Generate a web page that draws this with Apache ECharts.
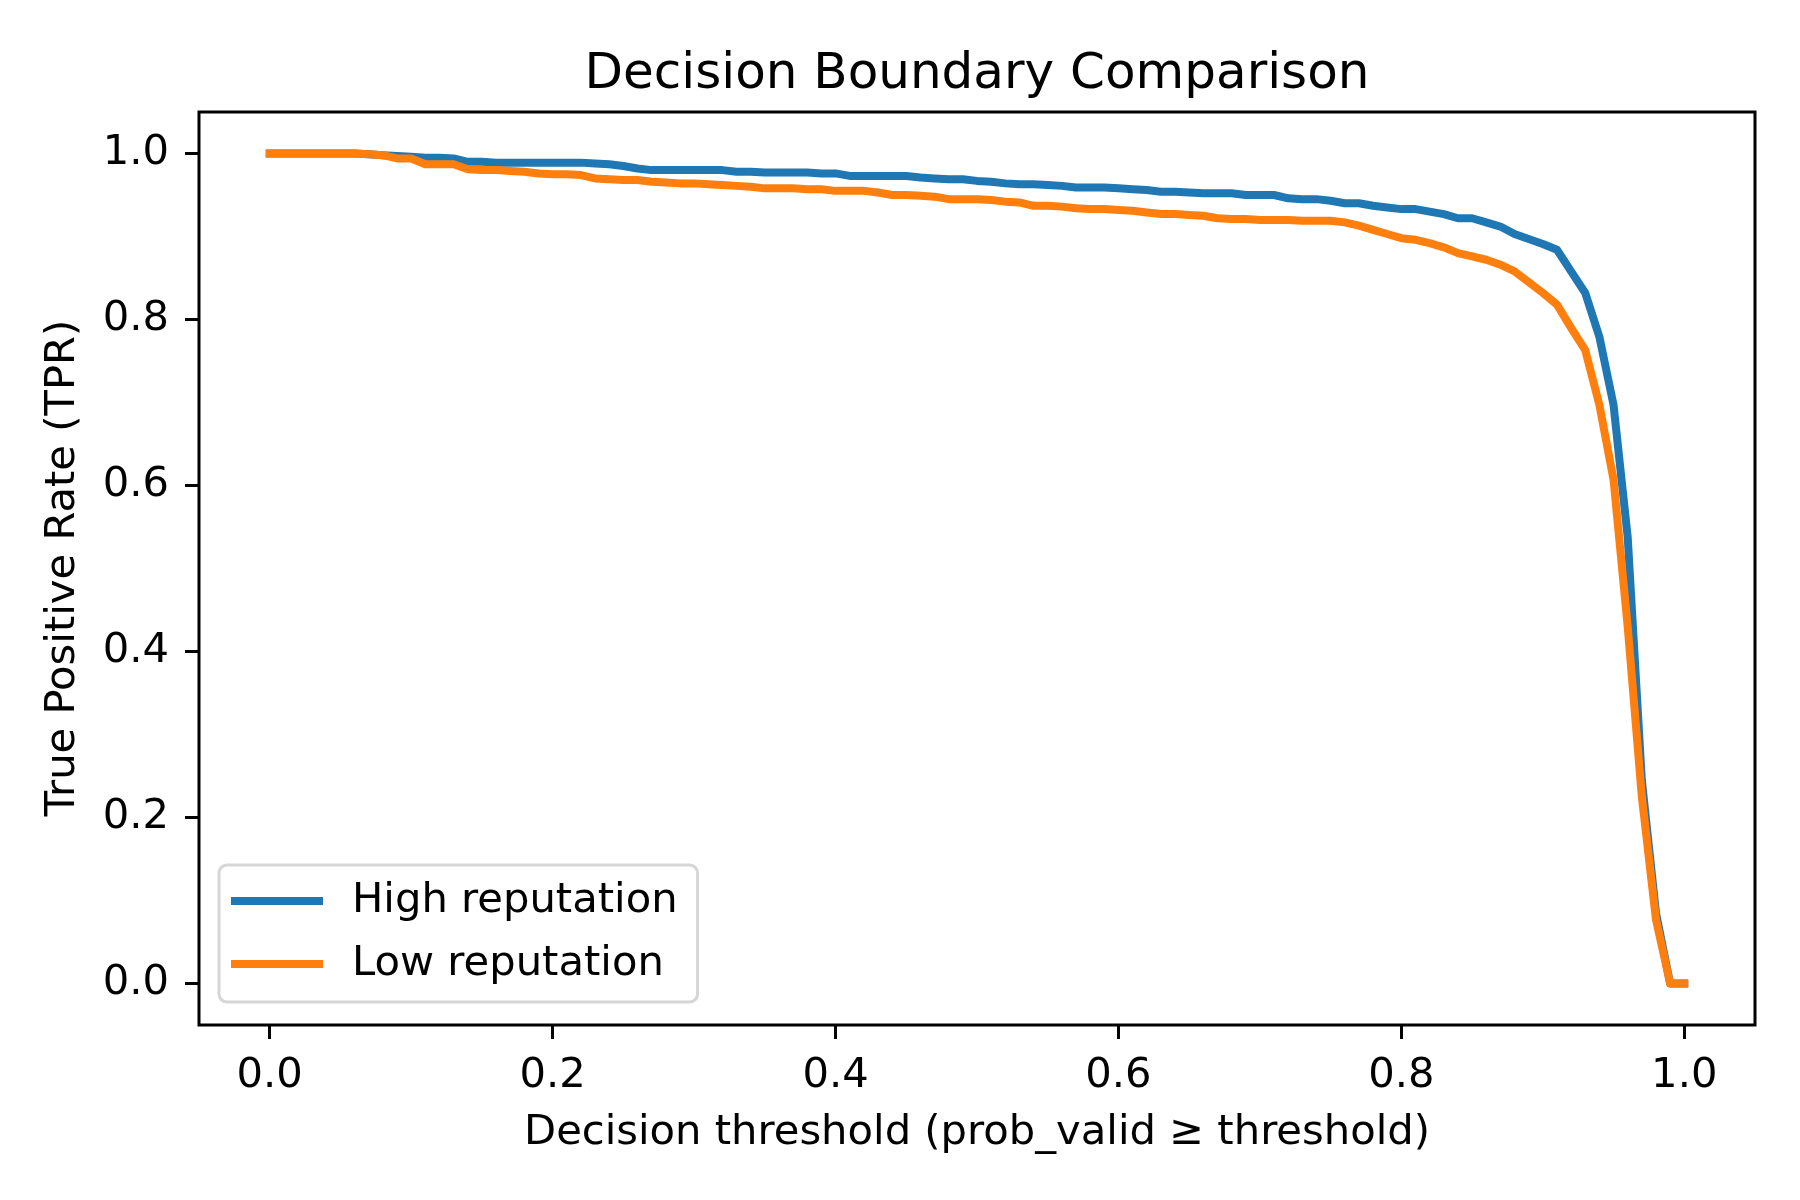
<!DOCTYPE html>
<html>
<head>
<meta charset="utf-8">
<script src="https://cdn.jsdelivr.net/npm/echarts@6/dist/echarts.min.js"></script>
<style>html,body{margin:0;padding:0;background:#fff;}#c{width:1800px;height:1200px;}</style>
</head>
<body>
<div id="c"></div>
<script>
const thresholds = [0.00,0.01,0.02,0.03,0.04,0.05,0.06,0.07,0.08,0.09,
0.10,0.11,0.12,0.13,0.14,0.15,0.16,0.17,0.18,0.19,
0.20,0.21,0.22,0.23,0.24,0.25,0.26,0.27,0.28,0.29,
0.30,0.31,0.32,0.33,0.34,0.35,0.36,0.37,0.38,0.39,
0.40,0.41,0.42,0.43,0.44,0.45,0.46,0.47,0.48,0.49,
0.50,0.51,0.52,0.53,0.54,0.55,0.56,0.57,0.58,0.59,
0.60,0.61,0.62,0.63,0.64,0.65,0.66,0.67,0.68,0.69,
0.70,0.71,0.72,0.73,0.74,0.75,0.76,0.77,0.78,0.79,
0.80,0.81,0.82,0.83,0.84,0.85,0.86,0.87,0.88,0.89,
0.90,0.91,0.92,0.93,0.94,0.95,0.96,0.97,0.98,0.99,1.00];

const highTPR = [1.0,1.0,1.0,1.0,1.0,1.0,1.0,0.999,0.998,0.997,
0.996,0.995,0.995,0.994,0.990,0.990,0.989,0.989,0.989,0.989,
0.989,0.989,0.989,0.988,0.987,0.985,0.982,0.980,0.980,0.980,
0.980,0.980,0.980,0.978,0.978,0.977,0.977,0.977,0.977,0.976,
0.976,0.973,0.973,0.973,0.973,0.973,0.971,0.970,0.969,0.969,
0.967,0.966,0.964,0.963,0.963,0.962,0.961,0.959,0.959,0.959,
0.958,0.957,0.956,0.954,0.954,0.953,0.952,0.952,0.952,0.950,
0.950,0.950,0.946,0.945,0.945,0.943,0.940,0.940,0.937,0.935,
0.933,0.933,0.930,0.927,0.922,0.922,0.917,0.912,0.903,0.897,
0.891,0.884,0.858,0.832,0.779,0.697,0.538,0.245,0.085,0.0,0.0];

const lowTPR = [1.0,1.0,1.0,1.0,1.0,1.0,1.0,0.999,0.998,0.994,
0.994,0.987,0.987,0.987,0.981,0.980,0.980,0.979,0.978,0.976,
0.975,0.975,0.974,0.970,0.969,0.968,0.968,0.966,0.965,0.964,
0.964,0.963,0.962,0.961,0.960,0.958,0.958,0.958,0.957,0.957,
0.955,0.955,0.955,0.953,0.950,0.950,0.949,0.948,0.945,0.945,
0.945,0.944,0.942,0.941,0.937,0.937,0.936,0.934,0.933,0.933,
0.932,0.931,0.929,0.927,0.927,0.926,0.925,0.922,0.921,0.921,
0.920,0.920,0.920,0.919,0.919,0.919,0.917,0.913,0.908,0.903,
0.898,0.896,0.892,0.887,0.880,0.876,0.872,0.866,0.858,0.845,
0.832,0.818,0.790,0.763,0.697,0.607,0.430,0.225,0.077,0.0,0.0];

const tickValues = [0.0,0.2,0.4,0.6,0.8,1.0];
const seriesNames = ['High reputation','Low reputation'];
const titleText = 'Decision Boundary Comparison';
const xLabel = 'Decision threshold (prob_valid \u2265 threshold)';
const yLabel = 'True Positive Rate (TPR)';

const FONT = 'DejaVu Sans';
const pairs = (ys) => thresholds.map((t, i) => [t, ys[i]]);

const chart = echarts.init(document.getElementById('c'), null, {renderer: 'canvas'});
const gridL = 199, gridR = 45, gridT = 112, gridB = 175;
chart.setOption({
  animation: false,
  backgroundColor: '#ffffff',
  grid: {left: gridL, right: gridR, top: gridT, bottom: gridB, show: true,
         borderColor: '#000', borderWidth: 3, backgroundColor: 'transparent'},
  xAxis: {
    type: 'value', min: -0.05, max: 1.05,
    splitLine: {show: false},
    axisLine: {show: false, onZero: false},
    axisTick: {show: true, length: 14, lineStyle: {color: '#000', width: 3}, customValues: tickValues},
    axisLabel: {show: true, margin: 30, fontSize: 41.7, fontFamily: FONT, color: '#000',
                customValues: tickValues, formatter: (v) => v.toFixed(1)}
  },
  yAxis: {
    type: 'value', min: -0.05, max: 1.05,
    splitLine: {show: false},
    axisLine: {show: false, onZero: false},
    axisTick: {show: true, length: 14, lineStyle: {color: '#000', width: 3}, customValues: tickValues},
    axisLabel: {show: true, margin: 30, fontSize: 41.7, fontFamily: FONT, color: '#000',
                customValues: tickValues, formatter: (v) => v.toFixed(1)}
  },
  legend: {
    orient: 'vertical', left: 219, top: 865,
    data: seriesNames,
    icon: 'rect', itemWidth: 92, itemHeight: 8, itemGap: 15,
    padding: [12, 20, 14, 12],
    backgroundColor: '#fff', borderColor: '#d6d6d6', borderWidth: 3, borderRadius: 8,
    textStyle: {fontSize: 41.7, fontFamily: FONT, color: '#000', lineHeight: 48, padding: [0, 0, 0, 24]}
  },
  graphic: [
    {type: 'text', x: 977, y: 75, style: {text: titleText, x: 0, y: 0, align: 'center', verticalAlign: 'middle',
      font: '50px "DejaVu Sans"', fill: '#000'}},
    {type: 'text', x: 977, y: 1133, style: {text: xLabel, x: 0, y: 0, align: 'center', verticalAlign: 'middle',
      font: '41.7px "DejaVu Sans"', fill: '#000'}},
    {type: 'text', x: 63, y: 568, rotation: Math.PI / 2, style: {text: yLabel, x: 0, y: 0, align: 'center', verticalAlign: 'middle',
      font: '41.7px "DejaVu Sans"', fill: '#000'}}
  ],
  series: [
    {name: seriesNames[0], type: 'line', data: pairs(highTPR), showSymbol: false, symbol: 'none',
     lineStyle: {color: '#1f77b4', width: 8, join: 'round', cap: 'square'}, itemStyle: {color: '#1f77b4'}, z: 2},
    {name: seriesNames[1], type: 'line', data: pairs(lowTPR), showSymbol: false, symbol: 'none',
     lineStyle: {color: '#ff7f0e', width: 8, join: 'round', cap: 'square'}, itemStyle: {color: '#ff7f0e'}, z: 3}
  ]
});
</script>
</body>
</html>
